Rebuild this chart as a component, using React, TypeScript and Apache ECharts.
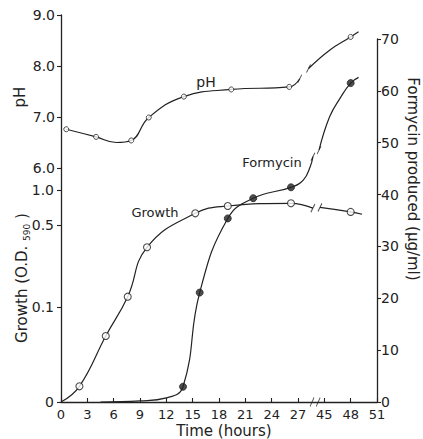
import React, { useEffect, useRef } from "react";
import * as echarts from "echarts";

// ---- axes ----
// hours after the axis break (45–51 h) are drawn shifted left by 15 h
const BREAK_SHIFT = 15;
const X_TICK_LABELS = ["0", "3", "6", "9", "12", "15", "18", "21", "24", "27", "45", "48", "51"];
const PH_MIN = 6;
const PH_MAX = 9;
const FORMYCIN_MAX = 70;
// growth axis is logarithmic (log10 of O.D.), "0" sits at the bottom of the broken axis
const GROWTH_LOG_MIN = -1.812;
const GROWTH_LOG_MAX = 0.188;
const GROWTH_TICKS = [0, 0.1, 0.5, 1.0];

// ---- pH (open small circles) ----
const phTime = [0.6, 4, 8, 10, 14, 19.4, 26, 48];
const phValue = [6.76, 6.61, 6.54, 6.99, 7.4, 7.54, 7.59, 8.57];
// points of the drawn curve that carry no marker (incl. ends at the break)
const phCurveTime = [6.3, 27.2, 43.2, 45.6, 48.9];
const phCurveValue = [6.5, 7.75, 7.95, 8.31, 8.67];

// ---- growth, O.D. 590 (open circles) ----
const growthTime = [2.1, 5.1, 7.6, 9.8, 15.3, 19, 26.2, 48];
const growthOD = [0.021, 0.0565, 0.1225, 0.324, 0.632, 0.73, 0.77, 0.65];
const growthCurveTime = [0, 28.7, 44.5, 49.3];
const growthCurveOD = [0, 0.7, 0.71, 0.62];

// ---- formycin produced, µg/ml (filled circles) ----
const formycinTime = [13.9, 15.8, 19, 21.9, 26.2, 48];
const formycinValue = [2.95, 21.1, 35.4, 39.3, 41.4, 61.5];
const formycinCurveTime = [4.5, 9, 12, 27.6, 28.4, 28.7, 44.4, 45.6, 46.8, 48.9];
const formycinCurveValue = [0, 0.2, 0.8, 42.8, 45.4, 47.3, 48.6, 55.0, 58.6, 62.6];

// x-axis break marks (hours, drawn on the time axis)
const axisBreakTime = [28.6, 29.3];

const FONT = "DejaVu Sans";
const INK = "#222";

const toX = (t: number) => (t > 35 ? t - BREAK_SHIFT : t);
const toG = (od: number) => (od <= 0 ? GROWTH_LOG_MIN : Math.log10(od));

type Pt = [number, number];

function buildCurve(mt: number[], mv: number[], ct: number[], cv: number[], fy: (v: number) => number) {
  const pts: Pt[] = [];
  mt.forEach((t, i) => pts.push([t, mv[i]]));
  ct.forEach((t, i) => pts.push([t, cv[i]]));
  pts.sort((a, b) => a[0] - b[0]);
  const before = pts.filter((p) => p[0] < 35).map((p) => [toX(p[0]), fy(p[1])] as Pt);
  const after = pts.filter((p) => p[0] > 35).map((p) => [toX(p[0]), fy(p[1])] as Pt);
  return { before, after };
}

const SLASH = "path://M0,10L5,0";

export default function App() {
  const ref = useRef<HTMLDivElement>(null);

  useEffect(() => {
    if (!ref.current) return;
    const chart = echarts.init(ref.current, undefined, { renderer: "svg" });

    const ph = buildCurve(phTime, phValue, phCurveTime, phCurveValue, (v) => v);
    const gr = buildCurve(growthTime, growthOD, growthCurveTime, growthCurveOD, toG);
    const fm = buildCurve(formycinTime, formycinValue, formycinCurveTime, formycinCurveValue, (v) => v);

    const lineStyle = { color: INK, width: 1.2 };
    const line = (data: Pt[], xi: number, yi: number) => ({
      type: "line",
      xAxisIndex: xi,
      yAxisIndex: yi,
      data,
      smooth: 0.45,
      showSymbol: false,
      lineStyle,
      z: 2,
    });
    const breakTicks = (a: Pt[], b: Pt[], xi: number, yi: number) => ({
      type: "scatter",
      xAxisIndex: xi,
      yAxisIndex: yi,
      data: [a[a.length - 1], b[0]],
      symbol: SLASH,
      symbolSize: [4, 8],
      itemStyle: { color: "none", borderColor: INK, borderWidth: 1.1 },
      z: 3,
    });

    const axisLine = { show: true, onZero: false, lineStyle: { color: INK, width: 1.3 } };
    const labelStyle = { color: INK, fontFamily: FONT, fontSize: 14 };

    const xAxes = [0, 1, 2].map((g) => ({
      gridIndex: g,
      type: "value",
      min: 0,
      max: 36,
      interval: 3,
      show: g === 1,
      position: "bottom",
      axisLine,
      axisTick: { show: true, inside: true, length: 4, lineStyle: { color: INK, width: 1.1 } },
      axisLabel: {
        ...labelStyle,
        fontSize: 13,
        margin: 6,
        formatter: (v: number) => X_TICK_LABELS[Math.round(v / 3)] ?? "",
      },
      splitLine: { show: false },
    }));

    const growthTickVals = GROWTH_TICKS.map(toG);

    const option: any = {
      animation: false,
      backgroundColor: "#fff",
      grid: [
        { left: 61, top: 15, width: 316, height: 153 },
        { left: 61, top: 168, width: 316, height: 234 },
        { left: 61, top: 39, width: 316, height: 363 },
      ],
      xAxis: xAxes,
      yAxis: [
        {
          gridIndex: 0,
          type: "value",
          min: PH_MIN,
          max: PH_MAX,
          interval: 1,
          position: "left",
          axisLine,
          axisTick: { show: true, length: 4, lineStyle: { color: INK, width: 1.1 } },
          axisLabel: { ...labelStyle, margin: 6, formatter: (v: number) => v.toFixed(1) },
          splitLine: { show: false },
        },
        {
          gridIndex: 1,
          type: "value",
          min: GROWTH_LOG_MIN,
          max: GROWTH_LOG_MAX,
          position: "left",
          axisLine,
          axisTick: { show: true, length: 4, customValues: growthTickVals, lineStyle: { color: INK, width: 1.1 } },
          axisLabel: {
            ...labelStyle,
            margin: 7,
            customValues: growthTickVals,
            formatter: (v: number) => {
              if (v <= GROWTH_LOG_MIN + 1e-6) return "0";
              const od = Math.pow(10, v);
              return od >= 0.95 ? od.toFixed(1) : String(Math.round(od * 10) / 10);
            },
          },
          splitLine: { show: false },
        },
        {
          gridIndex: 2,
          type: "value",
          min: 0,
          max: FORMYCIN_MAX,
          interval: 10,
          position: "right",
          axisLine,
          axisTick: { show: true, length: 4, lineStyle: { color: INK, width: 1.1 } },
          axisLabel: { ...labelStyle, margin: 4 },
          splitLine: { show: false },
        },
      ],
      series: [
        line(ph.before, 0, 0),
        line(ph.after, 0, 0),
        breakTicks(ph.before, ph.after, 0, 0),
        {
          type: "scatter",
          xAxisIndex: 0,
          yAxisIndex: 0,
          data: phTime.map((t, i) => [toX(t), phValue[i]]),
          symbol: "circle",
          symbolSize: 5,
          itemStyle: { color: "#fff", borderColor: INK, borderWidth: 1 },
          z: 4,
        },
        line(gr.before, 1, 1),
        line(gr.after, 1, 1),
        breakTicks(gr.before, gr.after, 1, 1),
        {
          type: "scatter",
          xAxisIndex: 1,
          yAxisIndex: 1,
          data: growthTime.map((t, i) => [toX(t), toG(growthOD[i])]),
          symbol: "circle",
          symbolSize: 7,
          itemStyle: { color: "#fff", borderColor: INK, borderWidth: 1.1 },
          z: 4,
        },
        {
          type: "scatter",
          xAxisIndex: 1,
          yAxisIndex: 1,
          data: axisBreakTime.map((t) => [t, GROWTH_LOG_MIN]),
          symbol: SLASH,
          symbolSize: [4, 9],
          itemStyle: { color: "none", borderColor: INK, borderWidth: 1.1 },
          z: 4,
        },
        line(fm.before, 2, 2),
        line(fm.after, 2, 2),
        breakTicks(fm.before, fm.after, 2, 2),
        {
          type: "scatter",
          xAxisIndex: 2,
          yAxisIndex: 2,
          data: formycinTime.map((t, i) => [toX(t), formycinValue[i]]),
          symbol: "circle",
          symbolSize: 7,
          itemStyle: { color: INK, borderColor: INK, borderWidth: 1 },
          z: 4,
        },
      ],
      graphic: [
        {
          type: "text",
          x: 206,
          y: 82,
          style: { text: "pH", fill: INK, font: `14px "${FONT}"`, align: "center", verticalAlign: "middle", textAlign: "center", textVerticalAlign: "middle" },
        },
        {
          type: "text",
          x: 155,
          y: 212,
          style: { text: "Growth", fill: INK, font: `13px "${FONT}"`, align: "center", verticalAlign: "middle", textAlign: "center", textVerticalAlign: "middle" },
        },
        {
          type: "text",
          x: 272,
          y: 162,
          style: { text: "Formycin", fill: INK, font: `13px "${FONT}"`, align: "center", verticalAlign: "middle", textAlign: "center", textVerticalAlign: "middle" },
        },
        {
          type: "text",
          x: 20,
          y: 97,
          rotation: Math.PI / 2,
          style: { text: "pH", fill: INK, font: `15px "${FONT}"`, align: "center", verticalAlign: "middle", textAlign: "center", textVerticalAlign: "middle" },
        },
        {
          type: "text",
          x: 22,
          y: 278,
          rotation: Math.PI / 2,
          style: {
            text: "{a|Growth (O.D. }{s|590}{a| )}",
            align: "center",
            verticalAlign: "middle",
            textAlign: "center",
            textVerticalAlign: "middle",
            rich: {
              a: { fontSize: 15, fontFamily: FONT, fill: INK, color: INK, lineHeight: 18 },
              s: { fontSize: 9, fontFamily: FONT, fill: INK, color: INK, verticalAlign: "bottom", lineHeight: 18 },
            },
          },
        },
        {
          type: "text",
          x: 413,
          y: 179,
          rotation: -Math.PI / 2,
          style: { text: "Formycin produced (\u03bcg/ml)", fill: INK, font: `15px "${FONT}"`, align: "center", verticalAlign: "middle", textAlign: "center", textVerticalAlign: "middle" },
        },
        {
          type: "text",
          x: 224,
          y: 431,
          style: { text: "Time (hours)", fill: INK, font: `15px "${FONT}"`, align: "center", verticalAlign: "middle", textAlign: "center", textVerticalAlign: "middle" },
        },
      ],
    };

    chart.setOption(option);
    return () => chart.dispose();
  }, []);

  return (
    <div
      ref={ref}
      style={{ position: "fixed", left: 0, top: 0, width: 423, height: 439, background: "#fff" }}
    />
  );
}
